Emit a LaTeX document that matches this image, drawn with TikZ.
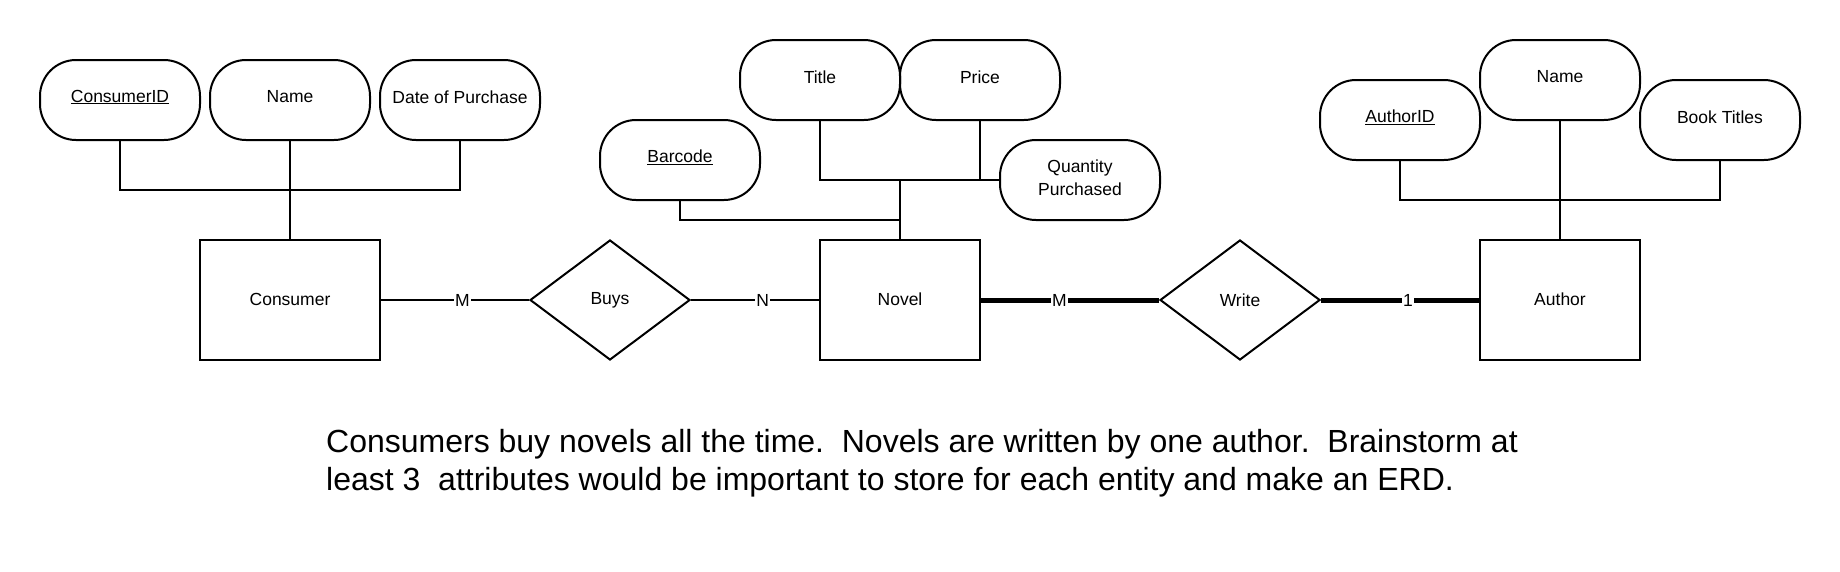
\documentclass[tikz,border=0pt]{standalone}
\usepackage{fontspec}
\setmainfont{Liberation Sans}
\usetikzlibrary{shapes.geometric}
\newcommand{\lblfont}{\fontsize{17.5}{21}\selectfont}
\newcommand{\lbup}[1]{\raisebox{3pt}[\height][\depth]{#1}}
\begin{document}
\begin{tikzpicture}[x=1pt,y=-1pt,
  attr/.style={draw, line width=2pt, rounded corners=36pt, minimum width=160pt, minimum height=80pt, font=\lblfont, inner sep=0pt, align=center},
  ent/.style={draw, line width=2pt, minimum width=160pt, minimum height=120pt, font=\lblfont, inner sep=0pt},
  rel/.style={draw, diamond, line width=2pt, minimum width=160pt, minimum height=120pt, font=\lblfont, inner sep=0pt},
  conn/.style={line width=2pt},
  thickconn/.style={line width=5pt},
  card/.style={fill=white, font=\lblfont, inner sep=1pt}]
\useasboundingbox[fill=white] (0,0) rectangle (1840,571);

% Consumer
\node[attr] (cid) at (120,100) {\lbup{\underline{ConsumerID}}};
\node[attr] (cname) at (290,100) {\lbup{Name}};
\node[attr] (dop) at (460,100) {\lbup{Date of Purchase}};
\node[ent, minimum width=180pt] (consumer) at (290,300) {\raisebox{1.5pt}{Consumer}};
\coordinate (cbus) at (290,190);
\draw[conn] (cid.south) -- (cid.south |- cbus) -| (dop.south);
\draw[conn] (cname.south) -- (consumer.north);

% Buys
\node[rel] (buys) at (610,300) {Buys};

% Novel
\node[attr] (title) at (820,80) {\lbup{Title}};
\node[attr] (price) at (980,80) {\lbup{Price}};
\node[attr] (barcode) at (680,160) {\lbup{\underline{Barcode}}};
\node[attr] (qp) at (1080,180) {\begin{tabular}{@{}c@{}}Quantity\\[2pt]Purchased\end{tabular}};
\node[ent] (novel) at (900,300) {\raisebox{1.5pt}{Novel}};
\coordinate (nb) at (900,220);
\draw[conn] (title.south) |- (qp.west);
\draw[conn] (price.south) -- (price.south |- qp.west);
\draw[conn] (novel.north) -- (novel.north |- qp.west);
\draw[conn] (barcode.south) |- (nb);

% Write
\node[rel] (write) at (1240,300) {Write};

% Author
\node[attr] (aid) at (1400,120) {\lbup{\underline{AuthorID}}};
\node[attr] (aname) at (1560,80) {\lbup{Name}};
\node[attr] (bt) at (1720,120) {\lbup{Book Titles}};
\node[ent] (author) at (1560,300) {\raisebox{1.5pt}{Author}};
\coordinate (abus) at (1560,200);
\draw[conn] (aid.south) -- (aid.south |- abus) -| (bt.south);
\draw[conn] (aname.south) -- (author.north);

% relationships
\draw[conn] (consumer.east) -- node[card, pos=0.55] {M} (buys.west);
\draw[conn] (buys.east) -- node[card, pos=0.56] {N} (novel.west);
\draw[thickconn] (novel.east) -- node[card, pos=0.44] {M} (write.west);
\draw[thickconn] (write.east) -- node[card, pos=0.55] {1} (author.west);

% description
\node[anchor=base west, align=left, inner sep=0pt, font=\fontsize{32}{37.5}\selectfont] (desc) at (326,490)
  {Consumers buy novels all the time.\ \ Novels are written by one author.\ \ Brainstorm at\\least 3\ \ attributes would be important to store for each entity and make an ERD.};
\end{tikzpicture}
\end{document}
